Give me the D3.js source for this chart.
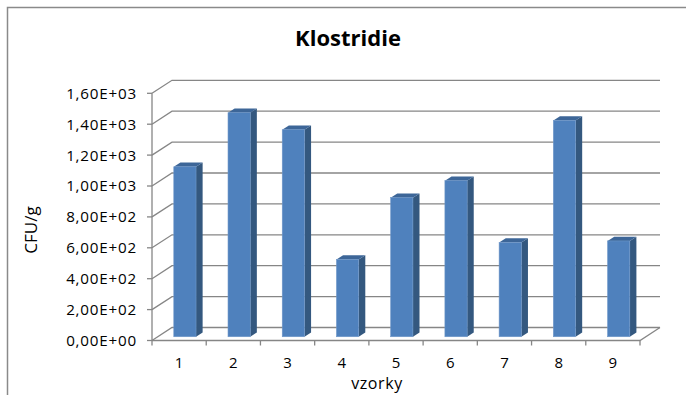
<!DOCTYPE html>
<html>
<head>
<meta charset="utf-8">
<script src="https://cdn.jsdelivr.net/npm/d3@7"></script>
<style>
  html, body { margin: 0; padding: 0; background: #fff; }
  svg { display: block; }
  text { font-family: "Open Sans", Lato, "Liberation Sans", sans-serif; fill: #000; }
</style>
</head>
<body>
<svg id="chart" width="686" height="395"></svg>
<script>
// Samples and their clostridia counts (CFU/g)
const categories = ["1", "2", "3", "4", "5", "6", "7", "8", "9"];
const values = [1100, 1450, 1340, 500, 900, 1010, 610, 1400, 620];
const yTicks = [0, 200, 400, 600, 800, 1000, 1200, 1400, 1600];
const yTickLabels = ["0,00E+00", "2,00E+02", "4,00E+02", "6,00E+02", "8,00E+02",
                     "1,00E+03", "1,20E+03", "1,40E+03", "1,60E+03"];
const titleText = "Klostridie";
const yTitle = "CFU/g";
const xTitle = "vzorky";

const svg = d3.select("#chart");

// Front plane of the 3D box
const left = 152, right = 640;
const y = d3.scaleLinear().domain([0, 1600]).range([340.5, 93.3]);
const x = d3.scaleBand().domain(categories).range([left, right]).paddingInner(0).paddingOuter(0);

// Depth projection: z = 0 front, z = 1 back wall
const DX = 20, DY = -13;
const px = (xx, z) => xx + DX * z;
const py = (yy, z) => yy + DY * z;

const gridColor = "#868686";

// Outer chart frame
svg.append("rect")
  .attr("x", 7.5).attr("y", 7.5).attr("width", 700).attr("height", 400)
  .attr("fill", "none").attr("stroke", "#8a8a8a").attr("stroke-width", 1.5);

// Title
svg.append("text")
  .attr("x", 348).attr("y", 46)
  .attr("text-anchor", "middle")
  .attr("font-size", 22).attr("font-weight", "bold")
  .text(titleText);

const grid = svg.append("g").attr("fill", "none").attr("stroke", gridColor).attr("stroke-width", 1.3);

// Gridlines: side-wall diagonal + back-wall horizontal
yTicks.forEach(v => {
  const yy = y(v);
  grid.append("path")
    .attr("d", `M${left},${yy} L${px(left, 1)},${py(yy, 1)} L${px(right, 1)},${py(yy, 1)}`);
});

// Floor outline
grid.append("path")
  .attr("d", `M${left},${y(0)} L${right},${y(0)} L${px(right, 1)},${py(y(0), 1)}`);

// Vertical value axis and its tick marks
grid.append("line")
  .attr("x1", left).attr("x2", left).attr("y1", y(1600)).attr("y2", y(0));
yTicks.forEach(v => {
  grid.append("line")
    .attr("x1", left - 5).attr("x2", left).attr("y1", y(v)).attr("y2", y(v));
});

// Category tick marks on the floor edge
const catEdges = categories.map(c => x(c)).concat([right]);
catEdges.forEach(xx => {
  grid.append("line")
    .attr("x1", xx).attr("x2", xx).attr("y1", y(0)).attr("y2", y(0) + 5);
});

// Value tick labels
svg.append("g").selectAll("text")
  .data(yTicks)
  .join("text")
  .attr("x", 137).attr("y", d => y(d))
  .attr("dy", "0.36em")
  .attr("text-anchor", "end")
  .attr("font-size", 15.2)
  .attr("letter-spacing", 0.8)
  .text((d, i) => yTickLabels[i]);

// Bars (prisms) drawn with front, side and top faces
const zFront = 0.29, zBack = 0.62;
const barW = x.bandwidth() * 0.41;
const bars = svg.append("g");
categories.forEach((c, i) => {
  const cx = x(c) + x.bandwidth() / 2;
  const x0 = px(cx - barW / 2, zFront), x1 = px(cx + barW / 2, zFront);
  const yb = py(y(0), zFront), yt = py(y(values[i]), zFront);
  const ddx = DX * (zBack - zFront), ddy = DY * (zBack - zFront);
  const g = bars.append("g");
  // side face
  g.append("path")
    .attr("d", `M${x1},${yb} L${x1 + ddx},${yb + ddy} L${x1 + ddx},${yt + ddy} L${x1},${yt} Z`)
    .attr("fill", "#34587f");
  // top face
  g.append("path")
    .attr("d", `M${x0},${yt} L${x1},${yt} L${x1 + ddx},${yt + ddy} L${x0 + ddx},${yt + ddy} Z`)
    .attr("fill", "#3d6698");
  // front face
  g.append("rect")
    .attr("x", x0).attr("y", yt).attr("width", x1 - x0).attr("height", yb - yt)
    .attr("fill", "#4f81bd")
    .attr("stroke", "#6f97c8").attr("stroke-width", 0.6);
});

// Category labels
svg.append("g").selectAll("text")
  .data(categories)
  .join("text")
  .attr("x", d => x(d) + x.bandwidth() / 2)
  .attr("y", 368)
  .attr("text-anchor", "middle")
  .attr("font-size", 15)
  .text(d => d);

// Axis titles
svg.append("text")
  .attr("x", 377).attr("y", 389)
  .attr("text-anchor", "middle")
  .attr("font-size", 16)
  .attr("letter-spacing", 0.6)
  .text(xTitle);

svg.append("text")
  .attr("transform", "translate(37,230) rotate(-90)")
  .attr("text-anchor", "middle")
  .attr("font-size", 17)
  .text(yTitle);
</script>
</body>
</html>
